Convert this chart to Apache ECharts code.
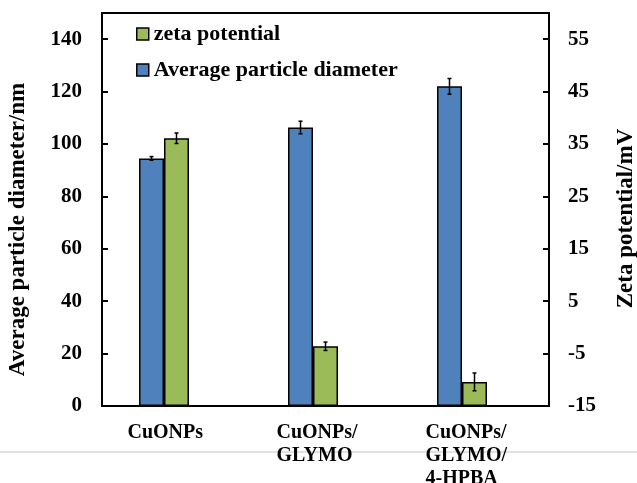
<!DOCTYPE html>
<html>
<head>
<meta charset="utf-8">
<script src="https://cdn.jsdelivr.net/npm/echarts@6/dist/echarts.min.js"></script>
<style>
  html, body { margin: 0; padding: 0; background: #fff; }
  #chart { width: 637px; height: 483px; }
</style>
</head>
<body>
<div id="chart"></div>
<script>
const categories = ["CuONPs", "CuONPs/\nGLYMO", "CuONPs/\nGLYMO/\n4-HPBA"];
const diameter = [94.5, 106.3, 122.0];
const diameterErr = [0.7, 2.4, 3.0];
const zeta = [36.1, -3.6, -10.4];
const zetaErr = [1.0, 0.8, 1.7];

// right axis runs from -15 mV; bars start at the bottom, so values are lifted by 15
const ZETA_MIN = -15;
const FONT = '"Times New Roman", "Liberation Serif", serif';
const BAR_W = 25;
const BLUE = "#4F81BD";
const GREEN = "#9BBB59";

const chart = echarts.init(document.getElementById("chart"), null, { renderer: "canvas" });

function errorSeries(values, errs, yAxisIndex, shift, offset) {
  return {
    type: "custom",
    yAxisIndex,
    z: 5,
    silent: true,
    data: values.map((v, i) => [i, v - shift, errs[i]]),
    renderItem(params, api) {
      const i = api.value(0);
      const v = api.value(1);
      const e = api.value(2);
      const top = api.coord([i, v + e]);
      const bot = api.coord([i, v - e]);
      const x = top[0] + offset;
      const style = { stroke: "#000", lineWidth: 1.5 };
      return {
        type: "group",
        children: [
          { type: "line", shape: { x1: x, y1: top[1], x2: x, y2: bot[1] }, style },
          { type: "line", shape: { x1: x - 2, y1: top[1], x2: x + 2, y2: top[1] }, style },
          { type: "line", shape: { x1: x - 2, y1: bot[1], x2: x + 2, y2: bot[1] }, style },
        ],
      };
    },
  };
}

const axisLineStyle = { color: "#000", width: 2 };
const tickLabel = { color: "#000", fontFamily: FONT, fontWeight: "bold", fontSize: 21 };

chart.setOption({
  animation: false,
  backgroundColor: "#fff",
  grid: {
    left: 102, right: 88, top: 13, bottom: 77,
    containLabel: false,
    outerBoundsMode: "none",
    show: true, borderColor: "#000", borderWidth: 2, backgroundColor: "transparent",
  },
  legend: {
    data: ["zeta potential", "Average particle diameter"],
    orient: "vertical",
    left: 136,
    top: 23,
    padding: 0,
    itemWidth: 12,
    itemHeight: 12,
    itemGap: 14,
    icon: "rect",
    itemStyle: { borderColor: "#000", borderWidth: 1.5 },
    textStyle: { color: "#000", fontFamily: FONT, fontWeight: "bold", fontSize: 22, lineHeight: 22 },
  },
  xAxis: {
    type: "category",
    data: categories,
    axisLine: { lineStyle: axisLineStyle },
    axisTick: { inside: true, length: 6, lineStyle: axisLineStyle },
    axisLabel: {
      margin: 15,
      interval: 0,
      formatter: (v) => v.split("\n").map((s) => "{a|" + s + "}").join("\n"),
      rich: {
        a: { width: 98, align: "left", color: "#000", fontFamily: FONT, fontWeight: "bold", fontSize: 20, lineHeight: 23 },
      },
    },
  },
  yAxis: [
    {
      type: "value",
      min: 0, max: 150, interval: 20,
      name: "Average particle diameter/nm",
      nameLocation: "middle",
      nameGap: 72,
      nameTextStyle: { color: "#000", fontFamily: FONT, fontWeight: "bold", fontSize: 23, padding: [0, 40, 0, 0] },
      axisLine: { show: true, lineStyle: axisLineStyle },
      axisTick: { show: true, inside: true, length: 6, lineStyle: axisLineStyle },
      axisLabel: { ...tickLabel, margin: 20, showMaxLabel: false },
      splitLine: { show: false },
    },
    {
      type: "value",
      min: 0, max: 75, interval: 10,
      name: "Zeta potential/mV",
      nameLocation: "middle",
      nameGap: 66,
      nameTextStyle: { color: "#000", fontFamily: FONT, fontWeight: "bold", fontSize: 23, padding: [0, 18, 0, 0] },
      axisLine: { show: true, lineStyle: axisLineStyle },
      axisTick: { show: true, inside: true, length: 6, lineStyle: axisLineStyle },
      axisLabel: { ...tickLabel, margin: 19, showMaxLabel: false, formatter: (v) => String(v + ZETA_MIN) },
      splitLine: { show: false },
    },
  ],
  graphic: [
    { type: "line", z: -1, shape: { x1: 0, y1: 452, x2: 637, y2: 452 }, style: { stroke: "#c4c4c4", lineWidth: 1 } },
  ],
  series: [
    {
      name: "Average particle diameter",
      type: "bar",
      yAxisIndex: 0,
      barWidth: BAR_W,
      barGap: "0%",
      data: diameter,
      itemStyle: { color: BLUE, borderColor: "#000", borderWidth: 1.5 },
    },
    {
      name: "zeta potential",
      type: "bar",
      yAxisIndex: 1,
      barWidth: BAR_W,
      barGap: "0%",
      data: zeta.map((v) => v - ZETA_MIN),
      itemStyle: { color: GREEN, borderColor: "#000", borderWidth: 1.5 },
    },
    {
      // empty third slot, keeps the pair left of centre like the source chart
      name: "spacer",
      type: "bar",
      yAxisIndex: 0,
      barWidth: BAR_W,
      barGap: "0%",
      data: categories.map(() => null),
    },
    errorSeries(diameter, diameterErr, 0, 0, -BAR_W),
    errorSeries(zeta, zetaErr, 1, ZETA_MIN, 0),
  ],
});
</script>
</body>
</html>
